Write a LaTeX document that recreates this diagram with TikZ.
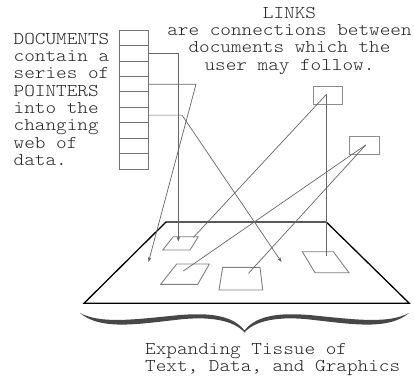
\documentclass[tikz,border=0pt]{standalone}
\usepackage{fontspec}
\newfontfamily\cour{Latin Modern Mono Light}[FakeStretch=1.124]
\usetikzlibrary{arrows.meta}
\begin{document}
\begin{tikzpicture}[x=1pt,y=-1pt,
  txt/.style={font=\cour\fontsize{18}{17.3}\selectfont, inner sep=0, text=black!85},
  cell/.style={draw=black!55, line width=0.9pt, minimum width=29pt, minimum height=15.48pt, inner sep=0},
  linkbox/.style={draw=black!45, line width=1pt, minimum width=29pt, minimum height=17.6pt, inner sep=0},
  wire/.style={draw=black!60, line width=0.7pt},
  ptr/.style={wire, -{Stealth[length=5pt,width=3.5pt]}},
  plane/.style={draw=black, line width=1.3pt, line join=miter},
  patch/.style={draw=black!50, line width=0.9pt},
  bracefill/.style={fill=black!72, draw=none}]
\useasboundingbox (0,0) rectangle (414,375);

% left text
\foreach \t [count=\i] in {DOCUMENTS,contain a,series of,POINTERS,into the,changing,web of,data.}
  \node[txt, anchor=base west] (doc\i) at (13.5, {44.3+17.3*(\i-1)}) {\t};

% top text
\foreach \t [count=\i] in {LINKS,are connections between,documents which the,user may follow.}
  \node[txt, anchor=base] (lk\i) at (289.5, {18.3+17.3*(\i-1)}) {\t};

% bottom text
\node[txt, anchor=base west] (ex1) at (145,354) {Expanding Tissue of};
\node[txt, anchor=base west] (ex2) at (145,371.5) {Text, Data, and Graphics};

% document column
\foreach \i in {1,...,9}
  \node[cell] (c\i) at (133.5, {30+15.48*(\i-0.5)}) {};

% link boxes
\node[linkbox] (l1) at (327.5,95.5) {};
\node[linkbox, minimum width=29.6pt, minimum height=18pt] (l2) at (364.5,145) {};
\coordinate (k1) at (326.5,94.3);
\coordinate (k2) at (365.7,145);

% plane
\coordinate (pa) at (84,303.3);
\coordinate (pb) at (166,222);
\coordinate (pc) at (326.3,222);
\coordinate (pd) at (409.3,303.3);
\draw[plane] (pa) -- (pb) -- (pc) -- (pd) -- cycle;

% patches on the plane
\draw[patch] (173.3,236.7) -- (198.3,236.7) -- (190,250) -- (162.7,250) -- cycle;
\draw[patch] (176.7,264) -- (209.3,264) -- (197.7,284.3) -- (160.7,284.3) -- cycle;
\draw[patch] (222.7,267.3) -- (260,267.3) -- (262.7,290) -- (219,290) -- cycle;
\draw[patch] (302.3,251.7) -- (333.3,251.7) -- (349,272.7) -- (315,272.7) -- cycle;

% pointer ends
\coordinate (t1) at (178.3,241.5);
\coordinate (b2) at (196,84.2);
\coordinate (t2) at (148.5,262);
\coordinate (b3) at (182,115.1);
\coordinate (t3) at (281.5,262);

\draw[ptr] (c2.east) -| (t1);
\draw[ptr] (c4.east) -- (b2) -- (t2);
\draw[ptr] (c6.east) -- (b3) -- (t3);

% link ends
\coordinate (e1) at (326.5,256);
\coordinate (e2) at (193.3,237.5);
\coordinate (e3) at (183.3,271);
\coordinate (e4) at (248.5,273.3);
\draw[wire] (k1) -- (e1);
\draw[wire] (k1) -- (e2);
\draw[wire] (k2) -- (e3);
\draw[wire] (k2) -- (e4);

% brace
\path[bracefill] (80,313)
  .. controls (100,323.5) and (130,320) .. (170,316)
  .. controls (205,312) and (232,314) .. (244.5,330.5)
  .. controls (257,314) and (284,312) .. (319,316)
  .. controls (359,320) and (389,323.5) .. (409,313)
  .. controls (389,330) and (354,324.5) .. (314,320)
  .. controls (279,315.5) and (255,320.5) .. (244.5,332.5)
  .. controls (234,320.5) and (210,315.5) .. (175,320)
  .. controls (135,324.5) and (100,330) .. (80,313) -- cycle;
\end{tikzpicture}
\end{document}
